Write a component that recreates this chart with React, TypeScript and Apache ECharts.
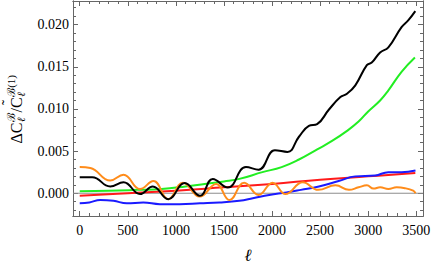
import { useEffect, useRef } from "react";
import * as echarts from "echarts";

const xMajorTicks = [0, 500, 1000, 1500, 2000, 2500, 3000, 3500];
const xMinorTicks = [100, 200, 300, 400, 600, 700, 800, 900, 1100, 1200, 1300, 1400, 1600, 1700, 1800, 1900, 2100, 2200, 2300, 2400, 2600, 2700, 2800, 2900, 3100, 3200, 3300, 3400];
const yMajorTicks = [0, 0.005, 0.01, 0.015, 0.02];
const yMinorTicks = [-0.002, -0.001, 0.001, 0.002, 0.003, 0.004, 0.006, 0.007, 0.008, 0.009, 0.011, 0.012, 0.013, 0.014, 0.016, 0.017, 0.018, 0.019, 0.021, 0.022];

const blackCurve: [number, number][] = [
  [0, 0.0019], [130, 0.0019], [317, 0.0008], [455, 0.0013], [627, -0.0001], [760, 0.0008],
  [920, -0.0007], [1092, 0.0012], [1250, -0.0003], [1384, 0.0017], [1540, 0.00067], [1729, 0.0031],
  [1860, 0.0028], [2030, 0.0051], [2160, 0.0049], [2280, 0.0067], [2383, 0.008], [2469, 0.0082],
  [2590, 0.0099], [2711, 0.0114], [2779, 0.0118], [2866, 0.0128], [2986, 0.0152], [3037, 0.0155],
  [3124, 0.0167], [3210, 0.0173], [3347, 0.0197], [3416, 0.0205], [3490, 0.0216],
];
const greenCurve: [number, number][] = [
  [0, 0.00025], [300, 0.0003], [600, 0.0004], [850, 0.0005], [1100, 0.0008], [1300, 0.0011],
  [1500, 0.0014], [1660, 0.0017], [1900, 0.0025], [2100, 0.0031], [2280, 0.004], [2470, 0.0052],
  [2624, 0.0062], [2780, 0.0074], [2900, 0.0085], [3000, 0.0097], [3124, 0.011], [3210, 0.0122],
  [3347, 0.0144], [3486, 0.0161],
];
const redCurve: [number, number][] = [
  [0, -0.0003], [500, 0.0], [1000, 0.0003], [1500, 0.0007], [2000, 0.0011], [2500, 0.0016],
  [3000, 0.002], [3490, 0.0024],
];
const blueCurve: [number, number][] = [
  [0, -0.0012], [100, -0.0011], [214, -0.0008], [351, -0.0009], [490, -0.0012], [661, -0.0011],
  [834, -0.0013], [1040, -0.0013], [1250, -0.0012], [1453, -0.0011], [1660, -0.0009], [1800, -0.0006],
  [1970, -0.0002], [2150, 0.0001], [2300, 0.0004], [2487, 0.0008], [2693, 0.00145], [2866, 0.002],
  [3072, 0.0021], [3210, 0.0025], [3347, 0.0025], [3492, 0.0027],
];
const orangeCurve: [number, number][] = [
  [0, 0.0031], [110, 0.003], [317, 0.0015], [455, 0.0022], [627, 0.0005], [766, 0.00145],
  [920, -0.0007], [1074, 0.00125], [1247, -0.0004], [1419, 0.0011], [1557, -0.0008], [1710, 0.00125],
  [1860, -0.0002], [2005, 0.00125], [2140, -0.0001], [2320, 0.0013], [2480, 0.0004], [2660, 0.00095],
  [2800, 0.0004], [2900, 0.0007], [2986, 0.00094], [3055, 0.00055], [3124, 0.0007], [3210, 0.0005],
  [3296, 0.0007], [3382, 0.0006], [3468, 0.0003], [3492, 0.0],
];

const X_MIN = -70;
const X_MAX = 3570;
const Y_MIN = -0.0027;
const Y_MAX = 0.0228;
const FRAME = "#666666";
const SERIF = "'Liberation Serif', 'DejaVu Serif', serif";

function measure(text: string, size: number, italic = false): number {
  const c = document.createElement("canvas").getContext("2d");
  if (!c) return text.length * size * 0.5;
  c.font = `${italic ? "italic " : ""}${size}px 'Liberation Serif'`;
  return c.measureText(text).width;
}

function buildYLabel() {
  const mainSize = 16;
  const scrSize = 11;
  const children: any[] = [];
  let x = 0;
  const main = (t: string) => {
    children.push({ type: "text", x, y: 0, style: { text: t, font: `${mainSize}px ${SERIF}`, fill: "#000", align: "left", verticalAlign: "middle" } });
    x += measure(t, mainSize);
  };
  const scripts = (sub: string, sup: string) => {
    const x0 = x + 0.5;
    children.push({ type: "text", x: x0, y: 4.5, style: { text: sub, font: `italic ${scrSize}px ${SERIF}`, fill: "#000", align: "left", verticalAlign: "middle" } });
    children.push({ type: "text", x: x0, y: -5.5, style: { text: sup, font: `${scrSize}px ${SERIF}`, fill: "#000", align: "left", verticalAlign: "middle" } });
    x = x0 + Math.max(measure(sub, scrSize, true), measure(sup, scrSize)) + 0.5;
  };
  main("ΔC");
  scripts("ℓ", "ℬ");
  main("/");
  const cx = x + measure("C", mainSize) / 2;
  children.push({ type: "text", x: cx, y: -9, style: { text: "˜", font: `${mainSize}px ${SERIF}`, fill: "#000", align: "center", verticalAlign: "middle" } });
  main("C");
  scripts("ℓ", "ℬ(1)");
  const w = x;
  children.forEach((ch) => (ch.x -= w / 2));
  return { type: "group", x: 16, y: 109, rotation: Math.PI / 2, children };
}

function xAxisDef(position: "top" | "bottom", values: number[], len: number, showLabel: boolean) {
  return {
    type: "value",
    min: X_MIN,
    max: X_MAX,
    position,
    gridIndex: 0,
    axisLine: { show: true, onZero: false, lineStyle: { color: FRAME, width: 1 } },
    splitLine: { show: false },
    axisTick: { show: true, inside: true, length: len, customValues: values, lineStyle: { color: FRAME, width: 1 } },
    axisLabel: {
      show: showLabel,
      customValues: values,
      margin: 7,
      color: "#000",
      fontFamily: SERIF,
      fontSize: 14,
      formatter: (v: number) => String(Math.round(v)),
    },
  };
}

function yAxisDef(position: "left" | "right", values: number[], len: number, showLabel: boolean) {
  return {
    type: "value",
    min: Y_MIN,
    max: Y_MAX,
    position,
    gridIndex: 0,
    axisLine: { show: true, onZero: false, lineStyle: { color: FRAME, width: 1 } },
    splitLine: { show: false },
    axisTick: { show: true, inside: true, length: len, customValues: values, lineStyle: { color: FRAME, width: 1 } },
    axisLabel: {
      show: showLabel,
      customValues: values,
      margin: 4,
      color: "#000",
      fontFamily: SERIF,
      fontSize: 14,
      formatter: (v: number) => v.toFixed(3),
    },
  };
}

function lineSeries(data: [number, number][], color: string, z: number) {
  return {
    type: "line",
    data,
    smooth: 0.45,
    symbol: "none",
    silent: true,
    z,
    lineStyle: { color, width: 2 },
    xAxisIndex: 0,
    yAxisIndex: 0,
  };
}

export default function App() {
  const ref = useRef<HTMLDivElement>(null);
  useEffect(() => {
    if (!ref.current) return;
    const chart = echarts.init(ref.current, undefined, { renderer: "svg" });
    chart.setOption({
      animation: false,
      backgroundColor: "#ffffff",
      grid: { left: 73, right: 13, top: 1, bottom: 47 },
      xAxis: [
        xAxisDef("bottom", xMajorTicks, 5, true),
        xAxisDef("bottom", xMinorTicks, 3, false),
        xAxisDef("top", xMajorTicks, 5, false),
        xAxisDef("top", xMinorTicks, 3, false),
      ],
      yAxis: [
        yAxisDef("left", yMajorTicks, 5, true),
        yAxisDef("left", yMinorTicks, 3, false),
        yAxisDef("right", yMajorTicks, 5, false),
        yAxisDef("right", yMinorTicks, 3, false),
      ],
      series: [
        {
          type: "line",
          data: [[X_MIN, 0], [X_MAX, 0]],
          symbol: "none",
          silent: true,
          z: 1,
          lineStyle: { color: "#8c8c8c", width: 1 },
        },
        lineSeries(redCurve, "#ff1a1a", 2),
        lineSeries(greenCurve, "#22ee22", 3),
        lineSeries(blueCurve, "#1a1aff", 4),
        lineSeries(orangeCurve, "#ff8c1a", 5),
        lineSeries(blackCurve, "#000000", 6),
      ],
      graphic: [
        buildYLabel(),
        {
          type: "text",
          x: 248,
          y: 255,
          style: { text: "ℓ", font: `italic 17px ${SERIF}`, fill: "#000", align: "center", verticalAlign: "middle" },
        },
      ],
    });
    return () => chart.dispose();
  }, []);
  return <div ref={ref} style={{ position: "fixed", left: 0, top: 0, width: 436, height: 263 }} />;
}
